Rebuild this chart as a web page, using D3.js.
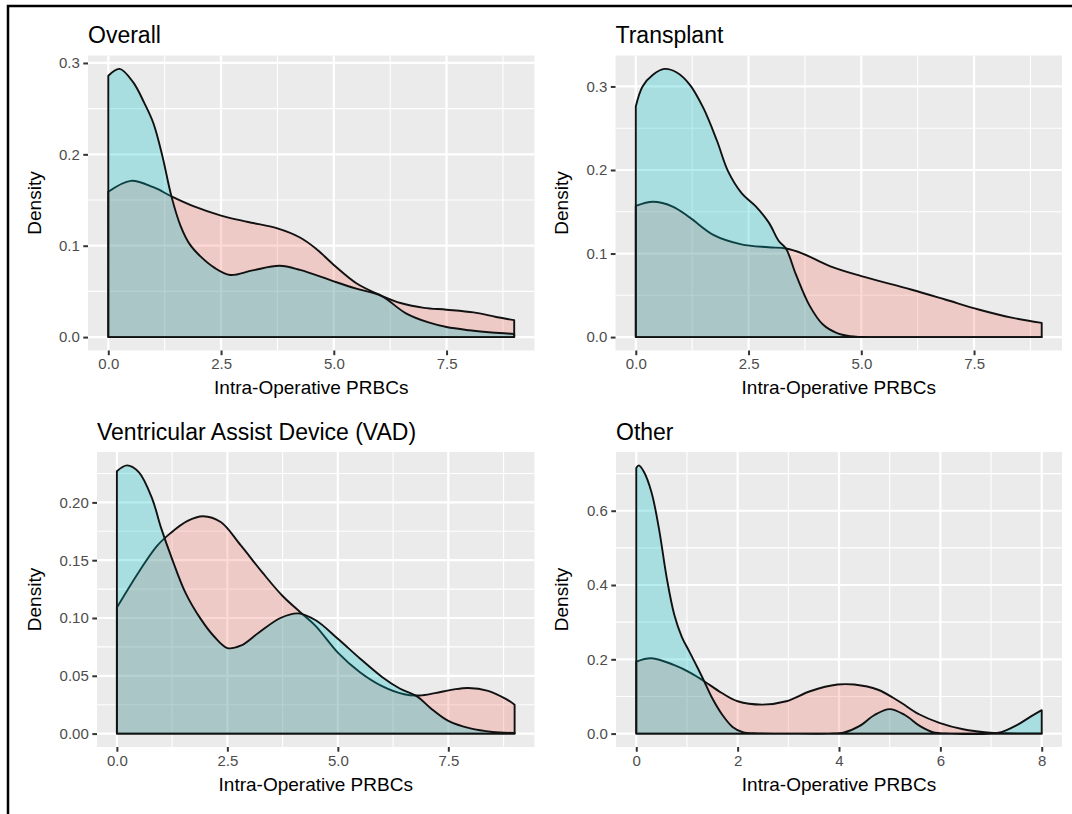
<!DOCTYPE html>
<meta charset="utf-8">
<script src="https://d3js.org/d3.v7.min.js"></script>
<style>
  body { margin: 0; background: #fff; }
  text { font-family: "Liberation Sans", Arial, sans-serif; }
</style>
<div id="chart"></div>
<script>

// density curves, as [PRBC units, density]
// group A = first factor level (red), group B = second level (teal)
const overallA = [[0,0.159],[0.5,0.171],[1.0,0.164],[1.4,0.154],[1.9,0.143],[2.5,0.133],[3.1,0.126],[3.75,0.119],[4.25,0.109],[4.6,0.097],[5.0,0.079],[5.5,0.059],[6.05,0.0455],[6.5,0.037],[7.0,0.032],[7.5,0.030],[8.1,0.027],[8.6,0.022],[9.0,0.0185]]
const overallB = [[0,0.286],[0.25,0.2935],[0.55,0.279],[0.8,0.256],[1.0,0.234],[1.2,0.198],[1.4,0.154],[1.6,0.122],[1.8,0.102],[2.05,0.088],[2.35,0.076],[2.7,0.068],[3.2,0.073],[3.8,0.078],[4.25,0.0735],[5.0,0.061],[5.5,0.053],[6.05,0.045],[6.6,0.026],[7.1,0.016],[7.5,0.011],[8.0,0.0075],[8.5,0.005],[9.0,0.0035]]

const transplantA = [[0,0.157],[0.38,0.162],[0.83,0.156],[1.2,0.143],[1.73,0.122],[2.34,0.111],[2.94,0.1075],[3.33,0.106],[3.7,0.100],[4.3,0.085],[5.0,0.073],[6.1,0.057],[6.86,0.045],[7.6,0.033],[8.36,0.023],[9.0,0.017]]
const transplantB = [[0,0.276],[0.15,0.300],[0.38,0.314],[0.64,0.321],[0.9,0.317],[1.2,0.302],[1.5,0.274],[1.8,0.235],[2.05,0.198],[2.35,0.172],[2.65,0.157],[2.95,0.137],[3.17,0.115],[3.33,0.106],[3.55,0.075],[3.85,0.038],[4.15,0.015],[4.45,0.005],[4.75,0.001],[5.0,0.0002],[6.0,0],[9.0,0]]

const vadA = [[0,0.109],[0.5,0.140],[0.9,0.162],[1.2,0.173],[1.6,0.184],[1.95,0.188],[2.35,0.183],[2.8,0.163],[3.3,0.139],[3.75,0.119],[4.15,0.105],[4.5,0.093],[5.0,0.070],[5.5,0.053],[6.0,0.041],[6.5,0.034],[6.85,0.033],[7.2,0.035],[7.6,0.038],[7.95,0.0395],[8.4,0.037],[8.8,0.030],[9.0,0.025]]
const vadB = [[0,0.227],[0.23,0.232],[0.5,0.226],[0.8,0.203],[1.0,0.178],[1.25,0.151],[1.55,0.122],[1.9,0.099],[2.2,0.084],[2.5,0.074],[2.8,0.076],[3.2,0.087],[3.7,0.100],[4.1,0.104],[4.5,0.098],[5.0,0.082],[5.5,0.065],[6.0,0.049],[6.4,0.039],[6.8,0.032],[7.1,0.022],[7.5,0.011],[8.0,0.0045],[8.5,0.0015],[9.0,0.0005]]

const otherA = [[0,0.194],[0.3,0.203],[0.74,0.185],[1.08,0.163],[1.34,0.141],[1.68,0.110],[2.0,0.087],[2.49,0.078],[2.96,0.087],[3.43,0.114],[3.97,0.132],[4.3,0.132],[4.77,0.118],[5.18,0.087],[5.58,0.052],[5.98,0.029],[6.45,0.0116],[6.92,0.003],[7.33,0.001],[8.0,0.0003]]
const otherB = [[0,0.715],[0.05,0.722],[0.15,0.705],[0.3,0.65],[0.45,0.55],[0.6,0.42],[0.75,0.32],[0.9,0.26],[1.05,0.22],[1.2,0.18],[1.34,0.141],[1.5,0.095],[1.7,0.05],[1.9,0.018],[2.1,0.004],[2.4,0.0005],[3.0,0],[3.8,0],[4.1,0.003],[4.4,0.02],[4.7,0.05],[5.0,0.066],[5.3,0.05],[5.6,0.02],[5.85,0.004],[6.2,0],[7.0,0],[7.2,0.004],[7.5,0.022],[7.75,0.043],[8.0,0.063]]

// axis ticks
const xTicksCont = [0, 2.5, 5, 7.5]
const xMinorCont = [1.25, 3.75, 6.25, 8.75]
const xTicksOther = [0, 2, 4, 6, 8]
const xMinorOther = [1, 3, 5, 7]
const yTicksTenth = [0, 0.1, 0.2, 0.3]
const yMinorTenth = [0.05, 0.15, 0.25]
const yTicksVad = [0, 0.05, 0.10, 0.15, 0.20]
const yMinorVad = [0.025, 0.075, 0.125, 0.175, 0.225]
const yTicksOther = [0, 0.2, 0.4, 0.6]
const yMinorOther = [0.1, 0.3, 0.5, 0.7]

const titles = ["Overall", "Transplant", "Ventricular Assist Device (VAD)", "Other"]
const xLabel = "Intra-Operative PRBCs"
const yLabel = "Density"

const width = 1072
const height = 814
const colA = "#F8766D", colB = "#00BFC4"

const f1 = d3.format(".1f"), f2 = d3.format(".2f"), f0 = d3.format("d")

// panel boxes and cell lefts (for the y title)
const panels = [
  {title: titles[0], a: overallA, b: overallB, xt: xTicksCont, xm: xMinorCont, xf: f1, yt: yTicksTenth, ym: yMinorTenth, yf: f1,
   box: {left: 88, right: 534.5, top: 55.5, bottom: 350.5}, cell: 11},
  {title: titles[1], a: transplantA, b: transplantB, xt: xTicksCont, xm: xMinorCont, xf: f1, yt: yTicksTenth, ym: yMinorTenth, yf: f1,
   box: {left: 615.5, right: 1062, top: 55.5, bottom: 350.5}, cell: 538},
  {title: titles[2], a: vadA, b: vadB, xt: xTicksCont, xm: xMinorCont, xf: f1, yt: yTicksVad, ym: yMinorVad, yf: f2,
   box: {left: 97, right: 534.5, top: 452, bottom: 747}, cell: 11},
  {title: titles[3], a: otherA, b: otherB, xt: xTicksOther, xm: xMinorOther, xf: f0, yt: yTicksOther, ym: yMinorOther, yf: f1,
   box: {left: 616, right: 1062, top: 452, bottom: 747}, cell: 538}
]

const svg = d3.select("#chart")
  .append("svg")
    .attr("width", width)
    .attr("height", height)

svg.append("rect")
  .attr("width", width)
  .attr("height", height)
  .attr("fill", "#fff")

// the black frame on top and left of the figure
svg.append("path")
  .attr("d", `M8,${height} V6 H${width}`)
  .attr("fill", "none")
  .attr("stroke", "#000")
  .attr("stroke-width", 2.5)

panels.forEach(p => {
  const all = p.a.concat(p.b)
  const xMax = d3.max(all, d => d[0])
  const yMax = d3.max(all, d => d[1])
  const b = p.box

  // ggplot style 5% expansion on both scales
  const x = d3.scaleLinear().domain([-0.05 * xMax, 1.05 * xMax]).range([b.left, b.right])
  const y = d3.scaleLinear().domain([-0.05 * yMax, 1.05 * yMax]).range([b.bottom, b.top])

  const g = svg.append("g")

  g.append("rect")
    .attr("x", b.left).attr("y", b.top)
    .attr("width", b.right - b.left).attr("height", b.bottom - b.top)
    .attr("fill", "#EBEBEB")

  // grid: minor first, then major
  g.selectAll(".vminor").data(p.xm).join("line")
    .attr("x1", d => x(d)).attr("x2", d => x(d))
    .attr("y1", b.top).attr("y2", b.bottom)
    .attr("stroke", "#fff").attr("stroke-width", 1.1)
  g.selectAll(".hminor").data(p.ym).join("line")
    .attr("y1", d => y(d)).attr("y2", d => y(d))
    .attr("x1", b.left).attr("x2", b.right)
    .attr("stroke", "#fff").attr("stroke-width", 1.1)
  g.selectAll(".vmajor").data(p.xt).join("line")
    .attr("x1", d => x(d)).attr("x2", d => x(d))
    .attr("y1", b.top).attr("y2", b.bottom)
    .attr("stroke", "#fff").attr("stroke-width", 2.2)
  g.selectAll(".hmajor").data(p.yt).join("line")
    .attr("y1", d => y(d)).attr("y2", d => y(d))
    .attr("x1", b.left).attr("x2", b.right)
    .attr("stroke", "#fff").attr("stroke-width", 2.2)

  const area = d3.area()
    .x(d => x(d[0]))
    .y0(y(0))
    .y1(d => y(d[1]))
    .curve(d3.curveCatmullRom.alpha(0.5))

  ;[[p.a, colA], [p.b, colB]].forEach(([s, c]) => {
    g.append("path")
      .datum(s)
      .attr("d", area)
      .attr("fill", c)
      .attr("fill-opacity", 0.28)
      .attr("stroke", "#111")
      .attr("stroke-width", 1.9)
      .attr("stroke-linejoin", "round")
  })

  // axes
  const ax = g.append("g")
    .attr("transform", `translate(0,${b.bottom})`)
    .call(d3.axisBottom(x).tickValues(p.xt).tickFormat(p.xf).tickSize(4.7).tickPadding(3.5))
  const ay = g.append("g")
    .attr("transform", `translate(${b.left},0)`)
    .call(d3.axisLeft(y).tickValues(p.yt).tickFormat(p.yf).tickSize(4.7).tickPadding(3.5))
  ;[ax, ay].forEach(a => {
    a.select(".domain").remove()
    a.selectAll("line").attr("stroke", "#333").attr("stroke-width", 2)
    a.selectAll("text")
      .attr("fill", "#4D4D4D")
      .style("font-size", "15px")
      .style("font-family", "'Liberation Sans', Arial, sans-serif")
  })

  g.append("text")
    .attr("x", b.left)
    .attr("y", b.top - 12.5)
    .style("font-size", "23px")
    .attr("fill", "#000")
    .text(p.title)

  g.append("text")
    .attr("x", (b.left + b.right) / 2)
    .attr("y", b.bottom + 43.5)
    .attr("text-anchor", "middle")
    .style("font-size", "19px")
    .attr("fill", "#000")
    .text(xLabel)

  g.append("text")
    .attr("transform", `translate(${p.cell + 30},${(b.top + b.bottom) / 2}) rotate(-90)`)
    .attr("text-anchor", "middle")
    .style("font-size", "19px")
    .attr("fill", "#000")
    .text(yLabel)
})

</script>
